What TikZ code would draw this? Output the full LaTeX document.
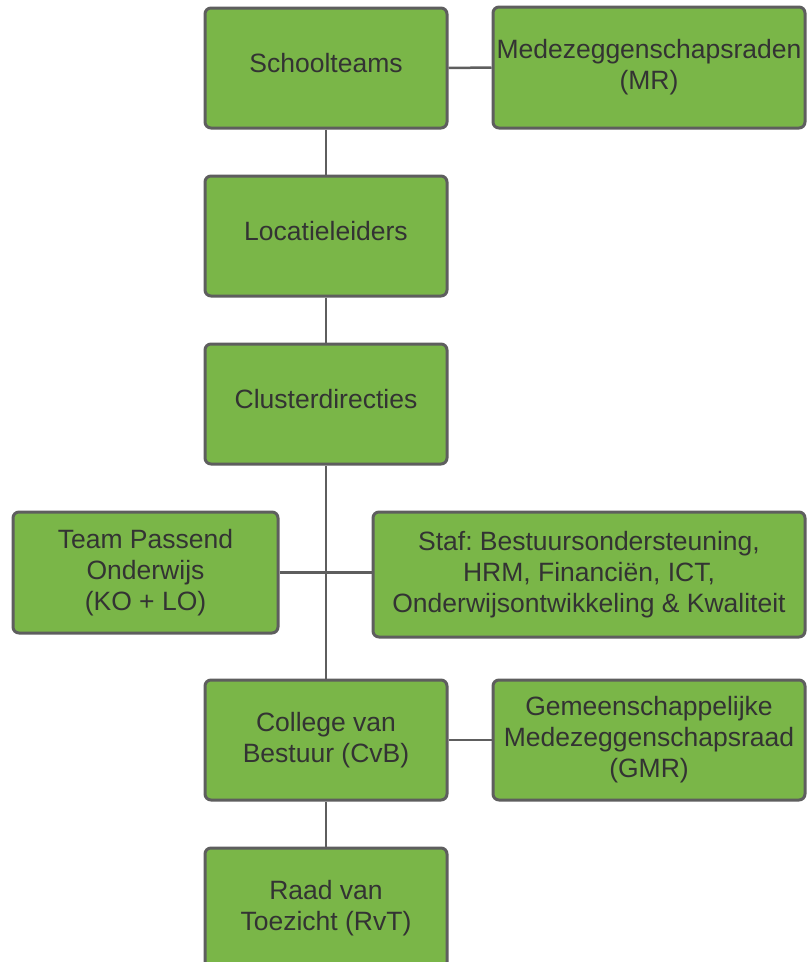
\documentclass[tikz,border=0pt]{standalone}
\usepackage{fontspec}
\setmainfont{Liberation Sans}
\frenchspacing
\definecolor{boxgreen}{HTML}{7AB648}
\definecolor{boxline}{HTML}{5E5E5E}
\definecolor{txt}{HTML}{333333}
\newcommand{\oneline}[1]{\raisebox{-4.5pt}[0pt][0pt]{#1}}
\tikzset{
  orgbox/.style={draw=boxline, line width=3pt, fill=boxgreen, rounded corners=6pt,
    text=txt, align=center, inner sep=0pt,
    font=\fontsize{26.5}{31}\selectfont},
  link/.style={draw=boxline, line width=2.5pt}
}
\begin{document}
\begin{tikzpicture}[x=1pt,y=-1pt]
\useasboundingbox (0,0) rectangle (807,962);
\clip (0,0) rectangle (807,962);
\node[orgbox, minimum width=242pt, minimum height=120pt] (st) at (326,68) {\oneline{Schoolteams}};
\node[orgbox, minimum width=312pt, minimum height=121pt] (mr) at (649,67.5) {Medezeggenschapsraden\\(MR)};
\node[orgbox, minimum width=242pt, minimum height=120pt] (loc) at (326,236) {\oneline{Locatieleiders}};
\node[orgbox, minimum width=242pt, minimum height=120pt] (clu) at (326,404) {\oneline{Clusterdirecties}};
\node[orgbox, minimum width=265pt, minimum height=121pt] (tpo) at (145.5,572.5) {Team Passend\\Onderwijs\\(KO + LO)};
\node[orgbox, minimum width=432pt, minimum height=125pt] (staf) at (589,574.5) {Staf: Bestuursondersteuning,\\HRM, Financiën, ICT,\\Onderwijsontwikkeling \& Kwaliteit};
\node[orgbox, minimum width=242pt, minimum height=120pt] (cvb) at (326,740) {College van\\Bestuur (CvB)};
\node[orgbox, minimum width=312pt, minimum height=120pt] (gmr) at (649,740) {Gemeenschappelijke\\Medezeggenschapsraad\\(GMR)};
\node[orgbox, minimum width=242pt, minimum height=120pt] (rvt) at (326,908) {Raad van\\Toezicht (RvT)};
\draw[link] (st.east) -- (mr.west);
\draw[link] (st.south) -- (loc.north);
\draw[link] (loc.south) -- (clu.north);
\draw[link] (clu.south) -- (cvb.north);
\draw[link] (tpo.east) -- (tpo.east -| staf.west);
\draw[link] (cvb.east) -- (gmr.west);
\draw[link] (cvb.south) -- (rvt.north);
\end{tikzpicture}
\end{document}
